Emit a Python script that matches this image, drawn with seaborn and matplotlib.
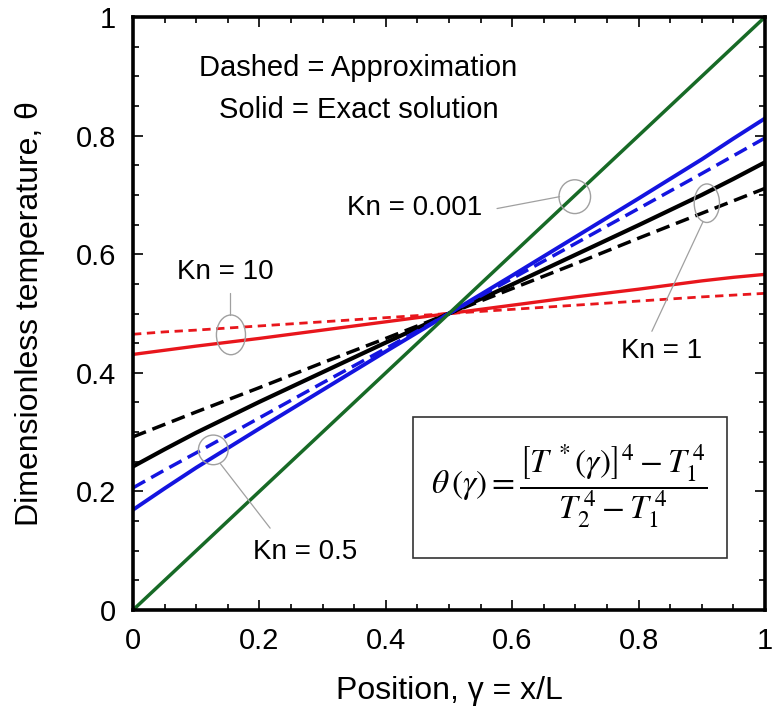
import numpy as np
import pandas as pd
import matplotlib
matplotlib.use("Agg")
import matplotlib.pyplot as plt
import seaborn as sns
from matplotlib.patches import Ellipse, Rectangle
from matplotlib.ticker import MultipleLocator, FuncFormatter

# ---------------- data ----------------
gamma = [0.0, 0.05, 0.1, 0.2, 0.3, 0.4, 0.5, 0.6, 0.7, 0.8, 0.9, 0.95, 1.0]

kn0001_exact = [0.0, 0.05, 0.1, 0.2, 0.3, 0.4, 0.5, 0.6, 0.7, 0.8, 0.9, 0.95, 1.0]
kn05_exact = [0.169, 0.205, 0.240, 0.306, 0.371, 0.436, 0.5, 0.564, 0.629, 0.694, 0.760, 0.795, 0.829]
kn05_approx = [0.206, 0.236, 0.265, 0.324, 0.383, 0.441, 0.5, 0.559, 0.618, 0.677, 0.736, 0.766, 0.796]
kn1_exact = [0.242, 0.271, 0.299, 0.351, 0.401, 0.451, 0.5, 0.549, 0.599, 0.649, 0.700, 0.727, 0.755]
kn1_approx = [0.292, 0.313, 0.334, 0.375, 0.417, 0.458, 0.5, 0.542, 0.584, 0.627, 0.669, 0.690, 0.711]
kn10_exact = [0.431, 0.438, 0.445, 0.458, 0.472, 0.486, 0.5, 0.514, 0.528, 0.541, 0.555, 0.561, 0.566]
kn10_approx = [0.465, 0.469, 0.472, 0.479, 0.486, 0.493, 0.5, 0.507, 0.514, 0.521, 0.528, 0.531, 0.534]

# ---------------- style ----------------
sns.set_theme(style="ticks")
plt.rcParams["font.family"] = ["Liberation Sans", "DejaVu Sans"]
plt.rcParams["mathtext.fontset"] = "stix"
plt.rcParams["text.color"] = "black"
plt.rcParams["axes.labelcolor"] = "black"
plt.rcParams["xtick.color"] = "black"
plt.rcParams["ytick.color"] = "black"
plt.rcParams["xtick.labelcolor"] = "black"
plt.rcParams["ytick.labelcolor"] = "black"

RED = "#e8161c"
BLUE = "#1414e0"
GREEN = "#176a26"
BLACK = "#000000"
GRAY = "#a0a0a0"

fig = plt.figure(figsize=(7.73, 7.13), dpi=100)
ax = fig.add_axes([133 / 773, 1 - 610 / 713, 632 / 773, 593 / 713])

def draw(y, color, lw, ls):
    sns.lineplot(x=gamma, y=y, ax=ax, color=color, lw=lw, linestyle=ls,
                 estimator=None, sort=False, legend=False)

draw(kn10_approx, RED, 2.0, (0, (3, 2)))
draw(kn10_exact, RED, 2.4, "-")
draw(kn1_approx, BLACK, 2.5, (0, (4, 2)))
draw(kn1_exact, BLACK, 3.0, "-")
draw(kn05_approx, BLUE, 2.5, (0, (4, 2)))
draw(kn05_exact, BLUE, 2.8, "-")
draw(kn0001_exact, GREEN, 2.5, "-")

ax.set_xlim(0, 1)
ax.set_ylim(0, 1)

ax.xaxis.set_major_locator(MultipleLocator(0.2))
ax.yaxis.set_major_locator(MultipleLocator(0.2))
ax.xaxis.set_minor_locator(MultipleLocator(0.05))
ax.yaxis.set_minor_locator(MultipleLocator(0.05))
fmt = FuncFormatter(lambda v, p: "%g" % round(v, 3))
ax.xaxis.set_major_formatter(fmt)
ax.yaxis.set_major_formatter(fmt)

ax.tick_params(which="both", direction="in", top=True, right=True,
               color="black", width=1.2)
ax.tick_params(which="major", length=7, labelsize=21, pad=12, labelcolor="black")
ax.tick_params(which="minor", length=4)

for s in ax.spines.values():
    s.set_linewidth(2.6)
    s.set_color("black")

ax.set_xlabel("Position, \u03b3 = x/L", fontsize=23, color="black")
ax.set_ylabel("Dimensionless temperature, \u03b8", fontsize=23, color="black")
ax.xaxis.set_label_coords(0.5, -0.112)
ax.yaxis.set_label_coords(-0.14, 0.5)

# legend-like text
ax.text(0.357, 0.914, "Dashed = Approximation", fontsize=21, ha="center", va="center", color="black")
ax.text(0.357, 0.843, "Solid = Exact solution", fontsize=21, ha="center", va="center", color="black")

# annotations: ellipses + leader lines + labels
def ell(cx, cy, w, h):
    ax.add_patch(Ellipse((cx, cy), w, h, fill=False, ec=GRAY, lw=1.0, zorder=5))

def lead(x0, y0, x1, y1):
    ax.plot([x0, x1], [y0, y1], color=GRAY, lw=0.9, zorder=5)

ell(0.155, 0.464, 0.046, 0.067)
lead(0.154, 0.498, 0.154, 0.535)
ax.text(0.146, 0.570, "Kn = 10", fontsize=20, ha="center", va="center", color="black")

ell(0.699, 0.697, 0.050, 0.057)
lead(0.576, 0.677, 0.675, 0.697)
ax.text(0.446, 0.678, "Kn = 0.001", fontsize=20, ha="center", va="center", color="black")

ell(0.908, 0.686, 0.040, 0.065)
lead(0.902, 0.655, 0.821, 0.470)
ax.text(0.836, 0.436, "Kn = 1", fontsize=20, ha="center", va="center", color="black")

ell(0.127, 0.270, 0.047, 0.050)
lead(0.138, 0.247, 0.217, 0.138)
ax.text(0.272, 0.098, "Kn = 0.5", fontsize=20, ha="center", va="center", color="black")

# formula box
ax.add_patch(Rectangle((0.443, 0.088), 0.497, 0.237, fill=False,
                       ec="#333333", lw=1.2, zorder=6))
ax.text(0.690, 0.208,
        r"$\theta\,(\gamma) = \dfrac{\left[T^{\,*}(\gamma)\right]^{4} - T_{1}^{\,4}}{T_{2}^{\,4} - T_{1}^{\,4}}$",
        fontsize=24, ha="center", va="center", zorder=7, color="black")

fig.savefig("out.png", dpi=100)
